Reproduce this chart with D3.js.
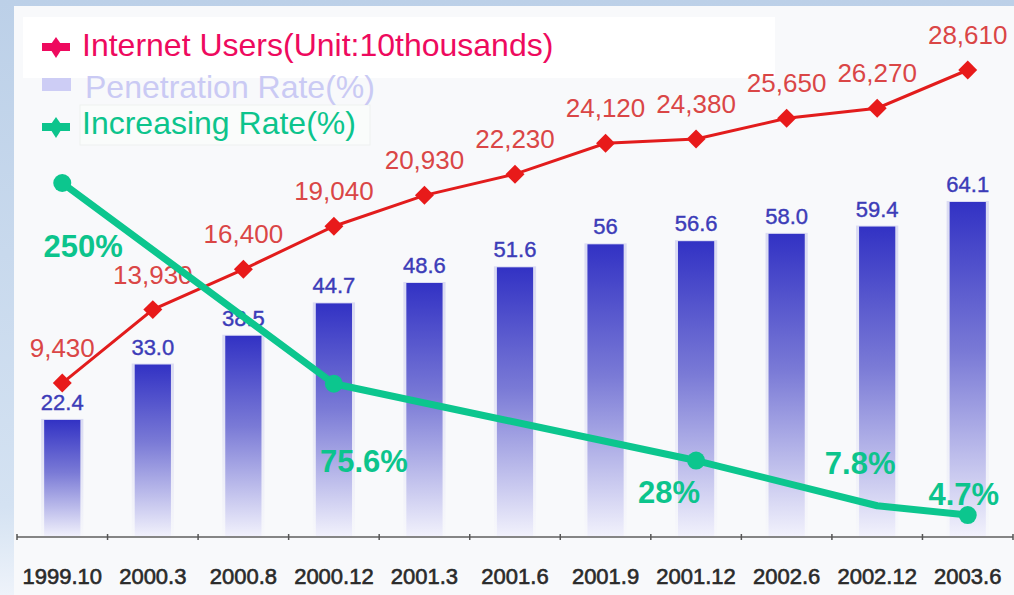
<!DOCTYPE html>
<html>
<head>
<meta charset="utf-8">
<script src="https://cdn.jsdelivr.net/npm/d3@7"></script>
<style>
  body { margin: 0; background: #fff; }
  svg { display: block; font-family: "Liberation Sans", Arial, sans-serif; }
</style>
</head>
<body>
<svg id="chart"></svg>
<script>
// data
const categories = ["1999.10", "2000.3", "2000.8", "2000.12", "2001.3", "2001.6", "2001.9", "2001.12", "2002.6", "2002.12", "2003.6"];
const users = [9430, 13930, 16400, 19040, 20930, 22230, 24120, 24380, 25650, 26270, 28610];
const penetration = [22.4, 33.0, 38.5, 44.7, 48.6, 51.6, 56, 56.6, 58.0, 59.4, 64.1];
const penetrationLabels = ["22.4", "33.0", "38.5", "44.7", "48.6", "51.6", "56", "56.6", "58.0", "59.4", "64.1"];
const growthCats = ["1999.10", "2000.12", "2001.12", "2002.12", "2003.6"];
const growthValues = [250, 75.6, 28, 7.8, 4.7];
const growthLabels = ["250%", "75.6%", "28%", "7.8%", "4.7%"];

const width = 1014, height = 595;
const baseY = 537;

const svg = d3.select("#chart").attr("width", width).attr("height", height);

// background: blue strip on top / left, pale panel
const defs = svg.append("defs");
const bgGrad = defs.append("linearGradient").attr("id", "bg").attr("x1", 0).attr("y1", 0).attr("x2", 0).attr("y2", 1);
bgGrad.append("stop").attr("offset", 0).attr("stop-color", "#bcd0e8");
bgGrad.append("stop").attr("offset", 0.85).attr("stop-color", "#d4e2f2");
bgGrad.append("stop").attr("offset", 1).attr("stop-color", "#eef3fa");
svg.append("rect").attr("width", width).attr("height", height).attr("fill", "url(#bg)");
svg.append("rect").attr("x", 14).attr("y", 6).attr("width", width - 14).attr("height", height - 6).attr("fill", "#f8f9fb");

// bar gradient
const barGrad = defs.append("linearGradient").attr("id", "barGrad").attr("x1", 0).attr("y1", 0).attr("x2", 0).attr("y2", 1);
barGrad.append("stop").attr("offset", 0).attr("stop-color", "#3232c4");
barGrad.append("stop").attr("offset", 0.45).attr("stop-color", "#7a7ad6");
barGrad.append("stop").attr("offset", 1).attr("stop-color", "#f2f2fc");

// scales
const x = d3.scaleBand().domain(categories).range([17, 1013]).paddingInner(0.6).paddingOuter(0.3);
const cx = d => x(d) + x.bandwidth() / 2;
const yUsers = d3.scaleLinear().domain([0, 28610]).range([baseY, 70]);
const yPen = d3.scaleLinear().domain([0, 64.1]).range([baseY, 202]);
const yGrowth = d3.scalePow().exponent(0.7).domain([0, 250]).range([baseY, 183]);

// legend boxes
svg.append("rect").attr("x", 23).attr("y", 17).attr("width", 752).attr("height", 61).attr("fill", "#ffffff");
svg.append("rect").attr("x", 80).attr("y", 105).attr("width", 290).attr("height", 40)
  .attr("fill", "#fafcfb").attr("stroke", "#eef1f0");

// bars
const barData = categories.map((c, i) => ({ c: c, v: penetration[i], label: penetrationLabels[i] }));
svg.selectAll(".halo").data(barData).enter().append("rect")
  .attr("x", d => x(d.c) - 3)
  .attr("y", d => yPen(d.v) - 1)
  .attr("width", x.bandwidth() + 6)
  .attr("height", d => baseY - yPen(d.v) + 1)
  .attr("fill", "url(#barGrad)").attr("opacity", 0.15);
svg.selectAll(".bar").data(barData).enter().append("rect")
  .attr("class", "bar")
  .attr("x", d => x(d.c))
  .attr("y", d => yPen(d.v))
  .attr("width", x.bandwidth())
  .attr("height", d => baseY - yPen(d.v))
  .attr("fill", "url(#barGrad)");
svg.selectAll(".barLabel").data(barData).enter().append("text")
  .attr("x", d => cx(d.c))
  .attr("y", d => yPen(d.v) - 10)
  .attr("text-anchor", "middle")
  .attr("font-size", 22)
  .attr("fill", "#3c3cb8")
  .attr("stroke", "#3c3cb8").attr("stroke-width", 0.4)
  .text(d => d.label);

// x axis (ticks on band edges)
const step = x.step();
const edges = categories.map(c => cx(c) - step / 2).concat([cx(categories[categories.length - 1]) + step / 2]);
svg.append("line").attr("x1", 17).attr("x2", 1013).attr("y1", baseY).attr("y2", baseY)
  .attr("stroke", "#858585").attr("stroke-width", 2);
svg.selectAll(".tick").data(edges).enter().append("line")
  .attr("x1", d => d).attr("x2", d => d).attr("y1", baseY - 3).attr("y2", baseY + 3)
  .attr("stroke", "#555").attr("stroke-width", 1.5);
svg.selectAll(".xLabel").data(categories).enter().append("text")
  .attr("x", d => cx(d))
  .attr("y", 584)
  .attr("text-anchor", "middle")
  .attr("font-size", 22)
  .attr("fill", "#2a2a2a")
  .attr("stroke", "#2a2a2a").attr("stroke-width", 0.6)
  .text(d => d);

// internet users line
const userData = categories.map((c, i) => ({ c: c, v: users[i] }));
const userLine = d3.line().x(d => cx(d.c)).y(d => yUsers(d.v));
svg.append("path").datum(userData).attr("d", userLine)
  .attr("fill", "none").attr("stroke", "#e21c1c").attr("stroke-width", 3);
svg.selectAll(".diamond").data(userData).enter().append("path")
  .attr("d", d3.symbol().type(d3.symbolSquare).size(180))
  .attr("transform", d => `translate(${cx(d.c)},${yUsers(d.v)}) rotate(45)`)
  .attr("fill", "#e81a1a");
svg.selectAll(".userLabel").data(userData).enter().append("text")
  .attr("x", d => cx(d.c))
  .attr("y", d => yUsers(d.v) - 26)
  .attr("text-anchor", "middle")
  .attr("font-size", 26)
  .attr("fill", "#da4646")
  .text(d => d3.format(",")(d.v));

// increasing rate line
const growthData = growthCats.map((c, i) => ({ c: c, v: growthValues[i], label: growthLabels[i] }));
const growthLine = d3.line().x(d => cx(d.c)).y(d => yGrowth(d.v));
svg.append("path").datum(growthData).attr("d", growthLine)
  .attr("fill", "none").attr("stroke", "#0cc68e").attr("stroke-width", 7).attr("stroke-linejoin", "round");
// the 7.8% point has no marker in the original
svg.selectAll(".gdot").data(growthData.filter(d => d.v !== 7.8)).enter().append("circle")
  .attr("cx", d => cx(d.c)).attr("cy", d => yGrowth(d.v)).attr("r", 9)
  .attr("fill", "#0cc68e");
// label nudges relative to each point
const growthNudge = [[21, 74], [30, 88], [-27, 42], [-17, -32], [-4, -10]];
svg.selectAll(".gLabel").data(growthData).enter().append("text")
  .attr("x", (d, i) => cx(d.c) + growthNudge[i][0])
  .attr("y", (d, i) => yGrowth(d.v) + growthNudge[i][1])
  .attr("text-anchor", "middle")
  .attr("font-size", 31)
  .attr("font-weight", "bold")
  .attr("fill", "#0cc48c")
  .text(d => d.label);

// legend
function starIcon(g, cy, color) {
  g.append("rect").attr("x", 42).attr("y", cy - 4).attr("width", 28).attr("height", 8).attr("fill", color);
  g.append("path").attr("d", `M56,${cy - 10} L63,${cy} L56,${cy + 11} L49,${cy} Z`).attr("fill", color);
}
const legend = svg.append("g");
starIcon(legend, 47, "#ee0a5e");
legend.append("text").attr("x", 82).attr("y", 56).attr("font-size", 32).attr("fill", "#ee0a5e")
  .text("Internet Users(Unit:10thousands)");
legend.append("rect").attr("x", 42).attr("y", 78).attr("width", 29).attr("height", 13).attr("fill", "#cdcdf5");
legend.append("text").attr("x", 85).attr("y", 98).attr("font-size", 32).attr("fill", "#cacaf4")
  .text("Penetration Rate(%)");
starIcon(legend, 127, "#0cc48c");
legend.append("text").attr("x", 82).attr("y", 134).attr("font-size", 32).attr("fill", "#0cc48c")
  .text("Increasing Rate(%)");
</script>
</body>
</html>
